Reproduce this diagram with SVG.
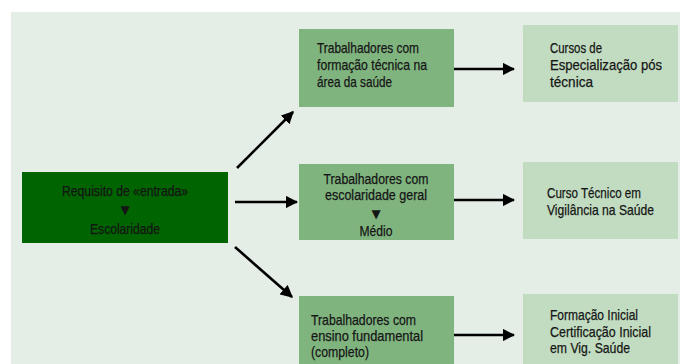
<svg xmlns="http://www.w3.org/2000/svg" width="680" height="364" viewBox="0 0 680 364">
  <defs>
    <style>
      text { font-family: "Liberation Sans", Arial, sans-serif; font-size: 15px; fill: #151515; stroke: #151515; stroke-width: 0.25; }
      .c { text-anchor: middle; }
      .s { font-size: 13.8px; }
      .tri { font-family: "DejaVu Sans", sans-serif; font-size: 12px; stroke: none; }
      .edge { stroke: #000; stroke-width: 2.6; fill: none; marker-end: url(#ah); }
      .dark { fill: #006400; }
      .mid { fill: #80b47f; }
      .light { fill: #c1dcc0; }
    </style>
    <marker id="ah" viewBox="0 0 10 10" refX="9" refY="5" markerWidth="4.8" markerHeight="4.8" markerUnits="strokeWidth" orient="auto">
      <path d="M0,0 L10,5 L0,10 z" fill="#000"/>
    </marker>
  </defs>
  <rect x="0" y="0" width="680" height="364" fill="#ffffff"/>
  <rect x="11" y="12" width="669" height="352" fill="#e4eee6"/>

  <g id="connectors">
    <line class="edge" x1="237" y1="168" x2="293" y2="112"/>
    <line class="edge" x1="235" y1="202" x2="297" y2="202"/>
    <line class="edge" x1="235" y1="247" x2="292" y2="297"/>
    <line class="edge" x1="454" y1="69" x2="514" y2="69"/>
    <line class="edge" x1="454" y1="200" x2="514" y2="200"/>
    <line class="edge" x1="454" y1="335" x2="514" y2="335"/>
  </g>

  <g id="requisito">
    <rect class="dark" x="22" y="172" width="206" height="71"/>
    <text class="c" x="125" y="196" textLength="126" lengthAdjust="spacingAndGlyphs">Requisito de «entrada»</text>
    <text class="c tri" x="125" y="214">▼</text>
    <text class="c" x="125" y="234" textLength="70" lengthAdjust="spacingAndGlyphs">Escolaridade</text>
  </g>

  <g id="formacao-tecnica">
    <rect class="mid" x="299" y="29" width="155" height="78"/>
    <text x="317" y="53" textLength="102" lengthAdjust="spacingAndGlyphs">Trabalhadores com</text>
    <text x="317" y="70" textLength="110" lengthAdjust="spacingAndGlyphs">formação técnica na</text>
    <text x="317" y="87" textLength="75" lengthAdjust="spacingAndGlyphs">área da saúde</text>
  </g>

  <g id="escolaridade-geral">
    <rect class="mid" x="299" y="164" width="155" height="76"/>
    <text class="c s" x="376" y="184" textLength="105" lengthAdjust="spacingAndGlyphs">Trabalhadores com</text>
    <text class="c s" x="376" y="200" textLength="102" lengthAdjust="spacingAndGlyphs">escolaridade geral</text>
    <text class="c tri" x="376" y="218">▼</text>
    <text class="c" x="376" y="236" textLength="33" lengthAdjust="spacingAndGlyphs">Médio</text>
  </g>

  <g id="ensino-fundamental">
    <rect class="mid" x="299" y="296" width="155" height="68"/>
    <text x="311" y="325" textLength="105" lengthAdjust="spacingAndGlyphs">Trabalhadores com</text>
    <text x="311" y="341" textLength="112" lengthAdjust="spacingAndGlyphs">ensino fundamental</text>
    <text x="311" y="357" textLength="58" lengthAdjust="spacingAndGlyphs">(completo)</text>
  </g>

  <g id="especializacao">
    <rect class="light" x="523" y="25" width="155" height="77"/>
    <text x="550" y="53" textLength="52" lengthAdjust="spacingAndGlyphs">Cursos de</text>
    <text x="550" y="70" textLength="112" lengthAdjust="spacingAndGlyphs">Especialização pós</text>
    <text x="550" y="87" textLength="43" lengthAdjust="spacingAndGlyphs">técnica</text>
  </g>

  <g id="curso-tecnico">
    <rect class="light" x="523" y="162" width="155" height="77"/>
    <text x="547" y="198" textLength="94" lengthAdjust="spacingAndGlyphs">Curso Técnico em</text>
    <text x="547" y="215" textLength="107" lengthAdjust="spacingAndGlyphs">Vigilância na Saúde</text>
  </g>

  <g id="formacao-inicial">
    <rect class="light" x="523" y="294" width="155" height="70"/>
    <text x="550" y="320" textLength="88" lengthAdjust="spacingAndGlyphs">Formação Inicial</text>
    <text x="550" y="337" textLength="101" lengthAdjust="spacingAndGlyphs">Certificação Inicial</text>
    <text x="550" y="353" textLength="80" lengthAdjust="spacingAndGlyphs">em Vig. Saúde</text>
  </g>
</svg>
